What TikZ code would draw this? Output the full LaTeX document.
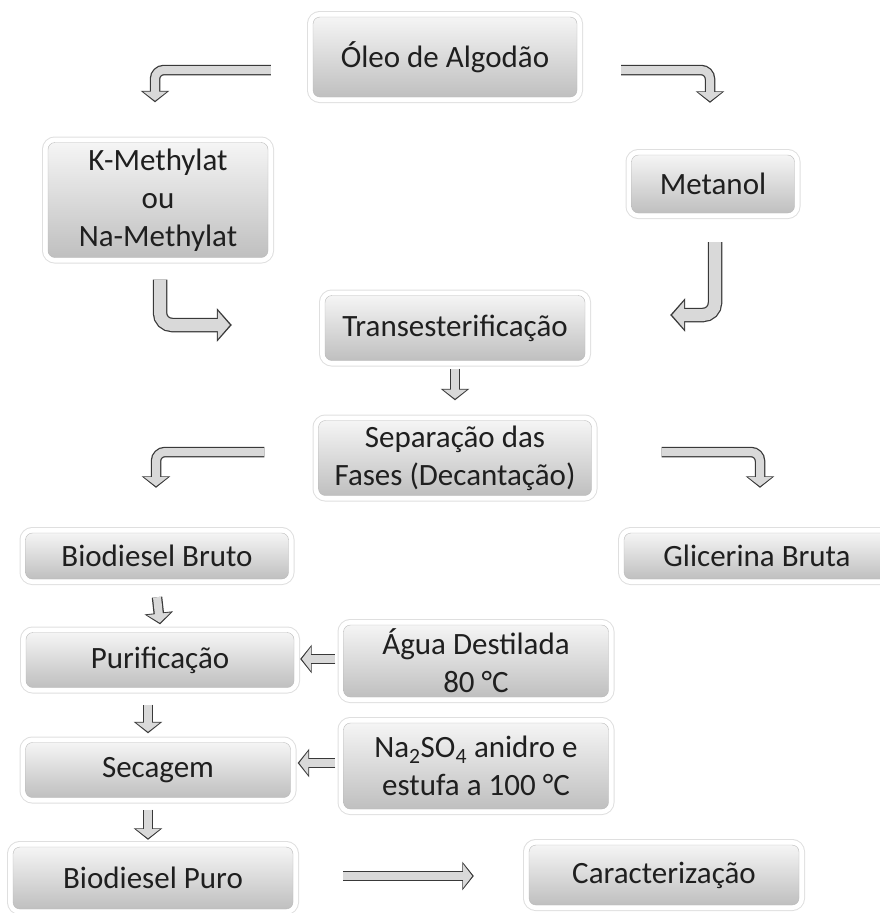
\documentclass[tikz,border=0pt]{standalone}
\usepackage{fontspec}
\setmainfont{Carlito}
\usetikzlibrary{arrows.meta}

\tikzset{
  stage/.style={rounded corners=7pt, top color=gray!8, bottom color=gray!50,
    draw=gray!55, line width=0.4pt, text=black!88, align=center,
    font=\fontsize{31}{38}\selectfont, inner sep=0pt,
    preaction={draw=gray!25, line width=12pt},
    preaction={draw=white, line width=10pt}},
  flow/.style={draw=gray!30, line width=8pt, rounded corners=9pt,
    -{Triangle[width=23pt,length=9pt]}, shorten >=1.6pt,
    preaction={draw=gray!45!black, line width=10.5pt,
      -{Triangle[width=28pt,length=11.5pt]}, shorten >=0pt}},
  bigflow/.style={draw=gray!30, line width=12pt, rounded corners=12pt,
    -{Triangle[width=27pt,length=12pt]}, shorten >=2pt,
    preaction={draw=gray!45!black, line width=14.5pt,
      -{Triangle[width=33pt,length=15pt]}, shorten >=0pt}}
}

\begin{document}
\begin{tikzpicture}[x=1pt, y=1pt]
  \useasboundingbox (0,0) rectangle (880,-913);

  % stages
  \node (oleo) at (445,-57) [stage, minimum width=264pt, minimum height=80pt] {Óleo de Algodão};
  \node (kme) at (158,-200) [stage, minimum width=220pt, minimum height=115pt] {K-Methylat\\ou\\Na-Methylat};
  \node (metanol) at (713,-184) [stage, minimum width=163pt, minimum height=58pt] {Metanol};
  \node (trans) at (455,-328) [stage, minimum width=260pt, minimum height=65pt] {Transesterificação};
  \node (sep) at (455,-458) [stage, minimum width=273pt, minimum height=75pt] {Separação das\\Fases (Decantação)};
  \node (bruto) at (157,-556) [stage, minimum width=263pt, minimum height=46pt] {Biodiesel Bruto};
  \node (glic) at (757,-556) [stage, minimum width=266pt, minimum height=46pt] {Glicerina Bruta};
  \node (purif) at (160,-660) [stage, minimum width=268pt, minimum height=55pt] {Purificação};
  \node (agua) at (476,-661) [stage, minimum width=265pt, minimum height=72pt] {Água Destilada\\80 °C};
  \node (secagem) at (158,-770) [stage, minimum width=265pt, minimum height=55pt] {Secagem};
  \node (sulfato) at (476,-766) [stage, minimum width=265pt, minimum height=86pt] {Na\textsubscript{2}SO\textsubscript{4} anidro e\\estufa a 100 °C};
  \node (puro) at (153,-878) [stage, minimum width=280pt, minimum height=62pt] {Biodiesel Puro};
  \node (carac) at (664,-875) [stage, minimum width=270pt, minimum height=60pt] {Caracterização};

  % arrows
  \draw [flow] ([xshift=-42pt, yshift=-13pt]oleo.west) -| ([xshift=-3pt, yshift=40pt]kme.north);
  \draw [flow] ([xshift=44pt, yshift=-13pt]oleo.east) -| ([xshift=-3pt, yshift=52pt]metanol.north);
  \draw [bigflow] ([xshift=2pt, yshift=-22pt]kme.south) |- ([xshift=-93pt, yshift=3pt]trans.west);
  \draw [bigflow] ([xshift=2pt, yshift=-29pt]metanol.south) |- ([xshift=85pt, yshift=13pt]trans.east);
  \draw [flow] ([yshift=-8pt]trans.south) -- ([yshift=20pt]sep.north);
  \draw [flow] ([xshift=-54pt, yshift=6pt]sep.west) -| ([xshift=-1pt, yshift=45pt]bruto.north);
  \draw [flow] ([xshift=70pt, yshift=6pt]sep.east) -| ([xshift=3pt, yshift=45pt]glic.north);
  \draw [flow] ([yshift=-18pt]bruto.south) -- ([yshift=8pt]purif.north);
  \draw [flow] ([xshift=-8pt, yshift=2pt]agua.west) -- ([xshift=6pt, yshift=1pt]purif.east);
  \draw [flow] ([xshift=-12pt, yshift=-17pt]purif.south) -- ([xshift=-10pt, yshift=9pt]secagem.north);
  \draw [flow] ([xshift=-8pt, yshift=3pt]sulfato.west) -- ([xshift=7pt, yshift=7pt]secagem.east);
  \draw [flow] ([xshift=-10pt, yshift=-12pt]secagem.south) -- ([xshift=-5pt, yshift=7pt]puro.north);
  \draw [flow] ([xshift=50pt, yshift=2pt]puro.east) -- ([xshift=-55pt, yshift=-1pt]carac.west);
\end{tikzpicture}
\end{document}
